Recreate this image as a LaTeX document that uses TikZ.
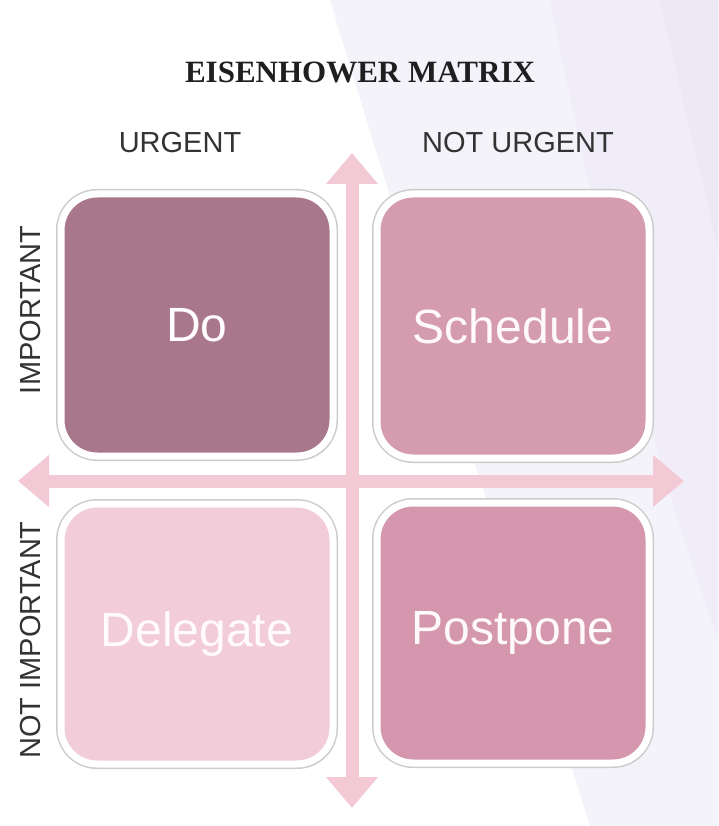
\documentclass[tikz,border=0pt]{standalone}
\usepackage{fontspec}
\setmainfont{Liberation Serif}
\setsansfont{Liberation Sans}
\usetikzlibrary{arrows.meta,shadows}
\definecolor{lavA}{HTML}{F5F3FA}
\definecolor{lavB}{HTML}{F0EDF8}
\definecolor{lavC}{HTML}{ECE8F5}
\definecolor{axiscol}{HTML}{F3C9D6}
\definecolor{doC}{HTML}{A9778B}
\definecolor{schC}{HTML}{D59BAF}
\definecolor{delC}{HTML}{F2CDD9}
\definecolor{posC}{HTML}{D597AD}
\definecolor{labcol}{HTML}{333333}
\tikzset{
  quad/.style={rounded corners=36pt, minimum width=272pt, inner sep=0pt,
    draw=white, line width=7pt,
    preaction={draw=black!20, line width=10pt},
    drop shadow={shadow xshift=2pt, shadow yshift=-3pt, opacity=.22, fill=black},
    font=\sffamily\fontsize{48}{50}\selectfont},
  axislabel/.style={font=\sffamily\fontsize{29}{30}\selectfont, text=labcol, inner sep=0pt},
  axisarrow/.style={draw=axiscol, line width=13pt,
    {Triangle[width=50pt,length=31pt]}-{Triangle[width=50pt,length=31pt]}},
}
\begin{document}
\begin{tikzpicture}[x=1pt,y=-1pt]
\useasboundingbox (0,0) rectangle (718,826);
\fill[white] (0,0) rectangle (718,826);
\fill[lavA] (330,0) .. controls (420,300) and (520,600) .. (590,826) -- (718,826) -- (718,0) -- cycle;
\fill[lavB] (550,0) .. controls (600,250) and (650,450) .. (718,640) -- (718,0) -- cycle;
\fill[lavC] (660,0) .. controls (680,90) and (700,170) .. (718,250) -- (718,0) -- cycle;

\node[font=\bfseries\fontsize{31}{32}\selectfont, text=black!88, inner sep=0pt] (title) at (360,72) {EISENHOWER MATRIX};
\node[axislabel] (urg) at (180,143) {URGENT};
\node[axislabel] (nurg) at (518,143) {NOT URGENT};
\node[axislabel, rotate=90] (imp) at (31,310) {IMPORTANT};
\node[axislabel, rotate=90] (nimp) at (31,640) {NOT IMPORTANT};

\coordinate (vt) at (352,153);
\coordinate (vb) at (352,808);
\coordinate (hl) at (18,481);
\coordinate (hr) at (684,481);
\draw[axisarrow] (vt) -- (vb);
\draw[axisarrow] (hl) -- (hr);

\node[quad, fill=doC, minimum height=262pt, text=white!97!pink] (do) at (197,325) {Do};
\node[quad, fill=schC, minimum height=264pt, text=white!92!pink] (sch) at (513,326) {Schedule};
\node[quad, fill=delC, minimum height=260pt, text=white!94!pink] (del) at (197,634) {Delegate};
\node[quad, fill=posC, minimum height=260pt, text=white!92!pink] (pos) at (513,633) {Postpone};
\end{tikzpicture}
\end{document}
